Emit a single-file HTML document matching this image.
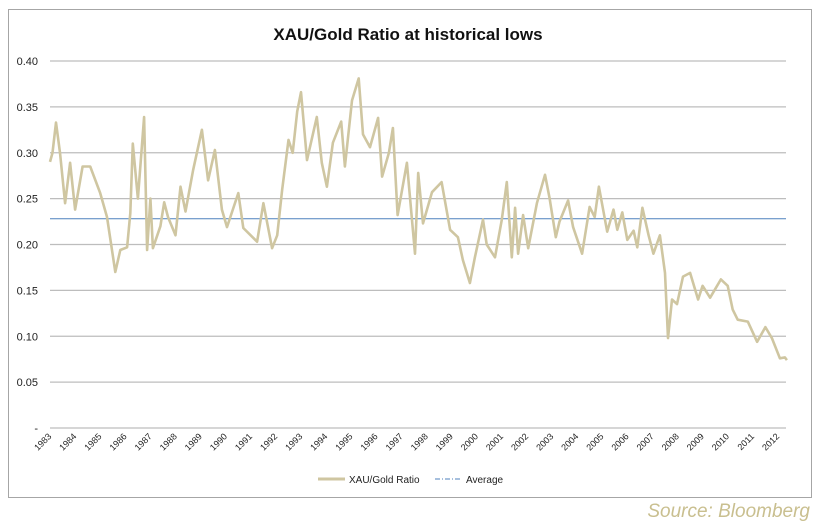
<!DOCTYPE html>
<html><head><meta charset="utf-8"><style>
body{margin:0;background:#fff;width:816px;height:526px;overflow:hidden;font-family:"Liberation Sans",sans-serif}
</style></head><body>
<svg id="chart" width="816" height="526" xmlns="http://www.w3.org/2000/svg">
<rect x="8.5" y="9.5" width="803" height="488" fill="#fff" stroke="#a6a6a6"/>
<text x="408" y="40" text-anchor="middle" font-size="17" font-weight="bold" fill="#111">XAU/Gold Ratio at historical lows</text>
<g id="grid"></g><g id="yt"></g><g id="xt"></g><g id="series"></g>
<g>
<line x1="318" y1="479" x2="345" y2="479" stroke="#cfc6a1" stroke-width="3"/>
<text x="349" y="483" font-size="10" fill="#222">XAU/Gold Ratio</text>
<line x1="435" y1="479" x2="462" y2="479" stroke="#4f81bd" stroke-width="1" stroke-dasharray="5,2,1,2"/>
<text x="466" y="483" font-size="10" fill="#222">Average</text>
</g>
<text x="810" y="517" text-anchor="end" font-size="19" font-style="italic" fill="#c9bf8f">Source: Bloomberg</text>
</svg>
<script>
const dates=[1983.0,1983.1,1983.24,1983.4,1983.6,1983.8,1984.0,1984.3,1984.6,1985.0,1985.27,1985.6,1985.8,1986.07,1986.2,1986.3,1986.5,1986.75,1986.87,1987.0,1987.1,1987.4,1987.55,1987.7,1988.0,1988.2,1988.4,1988.7,1989.05,1989.3,1989.57,1989.85,1990.05,1990.5,1990.7,1991.25,1991.5,1991.85,1992.05,1992.25,1992.5,1992.67,1992.85,1993.0,1993.24,1993.63,1993.83,1994.03,1994.27,1994.6,1994.75,1995.03,1995.3,1995.47,1995.75,1996.07,1996.23,1996.5,1996.66,1996.85,1997.22,1997.54,1997.67,1997.86,1998.22,1998.6,1998.94,1999.25,1999.45,1999.73,1999.93,2000.25,2000.4,2000.73,2001.0,2001.2,2001.4,2001.53,2001.65,2001.85,2002.05,2002.4,2002.72,2002.9,2003.15,2003.3,2003.64,2003.84,2004.2,2004.5,2004.7,2004.87,2005.2,2005.45,2005.6,2005.8,2006.0,2006.25,2006.4,2006.6,2006.85,2007.04,2007.3,2007.5,2007.62,2007.78,2007.98,2008.22,2008.5,2008.82,2009.0,2009.3,2009.73,2010.0,2010.2,2010.4,2010.8,2011.17,2011.5,2011.76,2012.08,2012.28,2012.36];
const ratio=[0.29,0.30,0.333,0.30,0.245,0.289,0.238,0.285,0.285,0.256,0.23,0.17,0.194,0.197,0.234,0.31,0.25,0.339,0.194,0.25,0.196,0.22,0.246,0.23,0.21,0.263,0.236,0.281,0.325,0.27,0.303,0.238,0.219,0.256,0.218,0.203,0.245,0.196,0.21,0.26,0.314,0.30,0.345,0.366,0.292,0.339,0.289,0.263,0.311,0.334,0.285,0.357,0.381,0.32,0.306,0.338,0.274,0.30,0.327,0.232,0.289,0.19,0.278,0.223,0.257,0.268,0.216,0.208,0.183,0.158,0.186,0.227,0.20,0.186,0.227,0.268,0.186,0.24,0.19,0.232,0.196,0.245,0.276,0.251,0.208,0.225,0.248,0.219,0.19,0.241,0.23,0.263,0.214,0.238,0.216,0.235,0.205,0.215,0.197,0.24,0.21,0.19,0.21,0.169,0.098,0.14,0.135,0.165,0.169,0.14,0.155,0.142,0.162,0.155,0.129,0.118,0.116,0.094,0.11,0.098,0.076,0.077,0.074];
const average=[0.228];
const yTicks=[0,0.05,0.10,0.15,0.20,0.25,0.30,0.35,0.40];
const yLabels=["-","0.05","0.10","0.15","0.20","0.25","0.30","0.35","0.40"];
const years=[1983,1984,1985,1986,1987,1988,1989,1990,1991,1992,1993,1994,1995,1996,1997,1998,1999,2000,2001,2002,2003,2004,2005,2006,2007,2008,2009,2010,2011,2012];
const NS="http://www.w3.org/2000/svg";
const X0=50,X1=790,YB=428,YT=61;
const xs=t=>X0+(t-1983)*25.1;
const ys=v=>YB-(v/0.40)*(YB-YT);
function mk(tag,attrs,parent){const e=document.createElementNS(NS,tag);for(const k in attrs)e.setAttribute(k,attrs[k]);document.getElementById(parent).appendChild(e);return e;}
yTicks.forEach((v,i)=>{
  if(v>0){const g=mk('line',{x1:X0,x2:X1-4,y1:ys(v),y2:ys(v),stroke:'#bdbdbd','stroke-width':1.3},'grid');
  
  }
  const t=mk('text',{x:38,y:ys(v)+4,'text-anchor':'end','font-size':11,fill:'#222'},'yt');
  
  
  t.textContent=yLabels[i];
});
const ax=mk('line',{x1:X0,x2:X1-4,y1:YB,y2:YB,stroke:'#bdbdbd','stroke-width':1.3},'grid');


years.forEach(y=>{
  const x=xs(y);
  const t=mk('text',{x:0,y:0,'text-anchor':'end','font-size':9,fill:'#222',transform:`translate(${x+2},${YB+9}) rotate(-45)`},'xt');
  
  
  t.textContent=y;
});
const av=mk('line',{x1:X0,x2:X1-4,y1:ys(average[0]),y2:ys(average[0]),stroke:'#4f81bd','stroke-width':1},'series');


const p=mk('polyline',{points:dates.map((d,i)=>xs(d).toFixed(1)+','+ys(ratio[i]).toFixed(1)).join(' '),fill:'none',stroke:'#cfc6a1','stroke-width':2.6,'stroke-linejoin':'round'},'series');


</script>
</body></html>
